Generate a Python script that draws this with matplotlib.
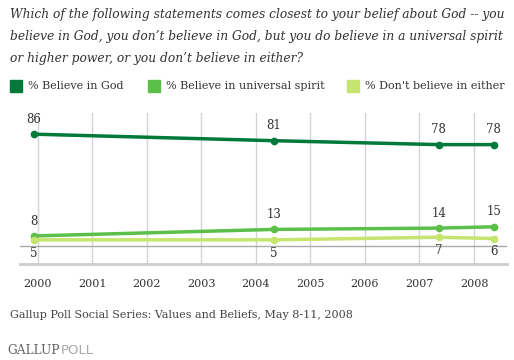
import matplotlib.pyplot as plt

# data
years = [1999.93, 2004.33, 2007.35, 2008.36]
god = [86, 81, 78, 78]
spirit = [8, 13, 14, 15]
neither = [5, 5, 7, 6]
tick_years = [2000, 2001, 2002, 2003, 2004, 2005, 2006, 2007, 2008]
series_names = ["% Believe in God", "% Believe in universal spirit", "% Don't believe in either"]
colors = ["#00793a", "#5cbf4a", "#c5e56e"]

title = ("Which of the following statements comes closest to your belief about God -- you\n"
         "believe in God, you don\u2019t believe in God, but you do believe in a universal spirit\n"
         "or higher power, or you don\u2019t believe in either?")

fig = plt.figure(figsize=(5.14, 3.6), dpi=100)
ax = fig.add_axes([0.0389, 0.2667, 0.947, 0.4186])

for yr in tick_years:
    ax.axvline(yr, color="#d4d4d4", lw=1, zorder=0)
ax.axhline(0, color="#aaaaaa", lw=1, zorder=1)

for vals, c in zip([god, spirit, neither], colors):
    ax.plot(years, vals, color=c, lw=2.5, marker="o", ms=4.5, zorder=3)

# labels
for x, v in zip(years, god):
    ax.annotate(str(v), (x, v), xytext=(0, 6), textcoords="offset points",
                ha="center", va="bottom", fontsize=8.5, family="DejaVu Serif", color="#333333")
for x, v in zip(years, spirit):
    ax.annotate(str(v), (x, v), xytext=(0, 6), textcoords="offset points",
                ha="center", va="bottom", fontsize=8.5, family="DejaVu Serif", color="#333333")
for x, v in zip(years, neither):
    ax.annotate(str(v), (x, v), xytext=(0, -5), textcoords="offset points",
                ha="center", va="top", fontsize=8.5, family="DejaVu Serif", color="#333333")

ax.set_xlim(1999.675, 2008.6)
ax.set_ylim(-13.5, 102)
ax.set_xticks(tick_years)
ax.set_xticklabels([str(y) for y in tick_years], family="DejaVu Serif", fontsize=8, color="#333333")
ax.tick_params(axis="x", length=0, pad=11)
ax.set_yticks([])
for s in ["top", "left", "right"]:
    ax.spines[s].set_visible(False)
ax.spines["bottom"].set_color("#cccccc")
ax.spines["bottom"].set_linewidth(2)

fig.text(10 / 514, 1 - 8 / 360, title, ha="left", va="top", style="italic",
         family="DejaVu Serif", fontsize=8.85, color="#333333", linespacing=1.9)

# legend
leg_x = [10, 148, 347]
for lx, name, c in zip(leg_x, series_names, colors):
    fig.patches.append(plt.Rectangle((lx / 514, 1 - 92 / 360), 12 / 514, 12 / 360,
                                     transform=fig.transFigure, color=c, figure=fig))
    fig.text((lx + 18) / 514, 1 - 86 / 360, name, ha="left", va="center",
             family="DejaVu Serif", fontsize=8, color="#333333")

fig.text(10 / 514, 1 - 315 / 360, "Gallup Poll Social Series: Values and Beliefs, May 8-11, 2008",
         ha="left", va="center", family="DejaVu Serif", fontsize=8, color="#444444")
fig.text(7 / 514, 1 - 350 / 360, "GALLUP", ha="left", va="center",
         family="DejaVu Serif", fontsize=8.8, color="#666666")
fig.text(61 / 514, 1 - 350 / 360, "POLL", ha="left", va="center",
         family="DejaVu Sans", fontsize=9.5, color="#aaaaaa")

fig.savefig("out.png", dpi=100)
